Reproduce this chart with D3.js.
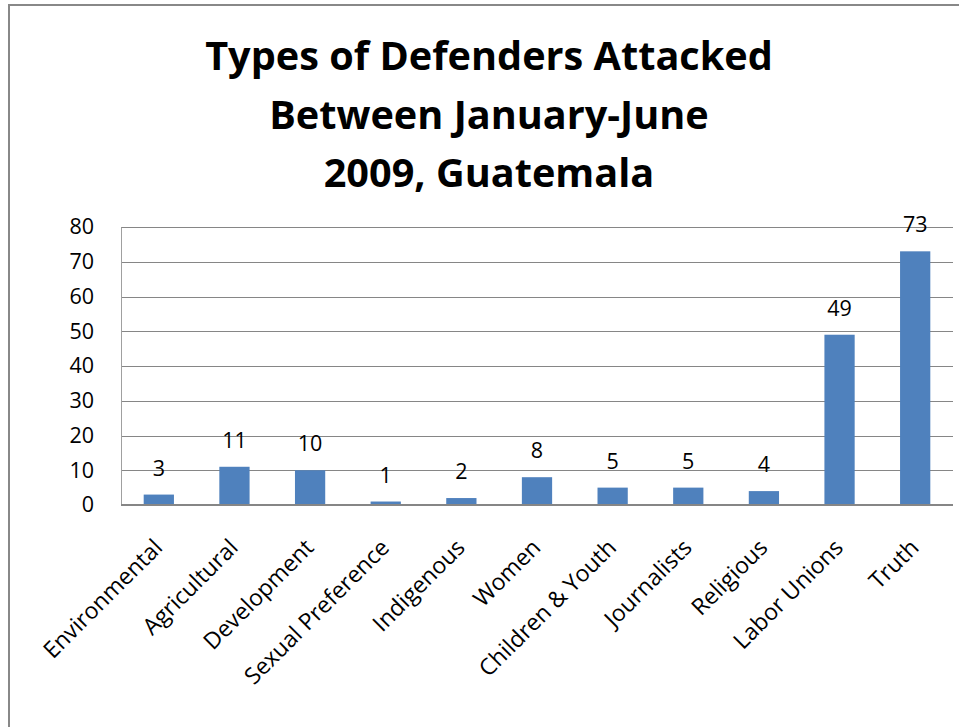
<!DOCTYPE html>
<html>
<head>
<meta charset="utf-8">
<script src="https://cdn.jsdelivr.net/npm/d3@7"></script>
<style>
  html, body { margin: 0; padding: 0; background: #fff; }
  svg { display: block; }
</style>
</head>
<body>
<svg id="chart" width="959" height="727"></svg>
<script>
// Attacks on human-rights defenders, by type of defender
const categories = ["Environmental", "Agricultural", "Development", "Sexual Preference", "Indigenous",
  "Women", "Children & Youth", "Journalists", "Religious", "Labor Unions", "Truth"];
const values = [3, 11, 10, 1, 2, 8, 5, 5, 4, 49, 73];
const yTicks = [0, 10, 20, 30, 40, 50, 60, 70, 80];
const titleLines = ["Types of Defenders Attacked", "Between January-June", "2009, Guatemala"];

const svg = d3.select("#chart");
const font = "'Open Sans', 'Liberation Sans', sans-serif";
const gridColor = "#868686";
const barColor = "#4F81BD";

// chart frame (runs past the right and bottom edges)
svg.append("rect")
  .attr("x", 9).attr("y", 5)
  .attr("width", 1000).attr("height", 800)
  .attr("fill", "#fff")
  .attr("stroke", "#888").attr("stroke-width", 2);

const plot = { left: 121, right: 953, top: 227, bottom: 505 };

const x = d3.scaleBand()
  .domain(categories)
  .range([plot.left, plot.right])
  .paddingInner(0.6)
  .paddingOuter(0.3);

const y = d3.scaleLinear()
  .domain([0, 80])
  .range([plot.bottom, plot.top]);

// title, three centred lines
const title = svg.append("g")
  .attr("font-family", font)
  .attr("font-weight", "bold")
  .attr("fill", "#000")
  .attr("text-anchor", "middle");
const titleSize = 40;
const titleBaselines = [70, 128.5, 187];
titleLines.forEach((line, i) => {
  title.append("text")
    .attr("x", 489)
    .attr("y", titleBaselines[i])
    .attr("font-size", titleSize)
    .text(line);
});
// fit the longest line to its width
const t0 = title.select("text").node();
const w0 = t0.getComputedTextLength();
const fitted = titleSize * 568 / w0;
title.selectAll("text").attr("font-size", Math.min(fitted, 46));

// horizontal gridlines
svg.append("g")
  .selectAll("line")
  .data(yTicks.filter(d => d > 0))
  .join("line")
  .attr("x1", plot.left).attr("x2", plot.right)
  .attr("y1", d => Math.round(y(d)) + 0.5)
  .attr("y2", d => Math.round(y(d)) + 0.5)
  .attr("stroke", gridColor)
  .attr("stroke-width", 1);

// y axis
const yAxis = svg.append("g")
  .attr("transform", `translate(${plot.left},0)`)
  .call(d3.axisLeft(y).tickValues(yTicks).tickSize(0).tickPadding(27));
yAxis.select(".domain").attr("stroke", "#a0a0a0").attr("stroke-width", 1);
yAxis.selectAll("text")
  .attr("font-family", font)
  .attr("font-size", 21.5)
  .attr("fill", "#000");

// bars
svg.append("g")
  .selectAll("rect")
  .data(categories.map((c, i) => ({ c, v: values[i] })))
  .join("rect")
  .attr("x", d => x(d.c))
  .attr("y", d => y(d.v))
  .attr("width", x.bandwidth())
  .attr("height", d => y(0) - y(d.v))
  .attr("fill", barColor);

// value labels
svg.append("g")
  .attr("font-family", font)
  .attr("font-size", 21.5)
  .attr("text-anchor", "middle")
  .selectAll("text")
  .data(categories.map((c, i) => ({ c, v: values[i] })))
  .join("text")
  .attr("x", d => x(d.c) + x.bandwidth() / 2)
  .attr("y", d => y(d.v) - 19)
  .text(d => d.v);

// x axis baseline
svg.append("line")
  .attr("x1", plot.left).attr("x2", plot.right)
  .attr("y1", y(0)).attr("y2", y(0))
  .attr("stroke", gridColor)
  .attr("stroke-width", 2);

// rotated category labels
svg.append("g")
  .attr("font-family", font)
  .attr("font-size", 23)
  .attr("text-anchor", "end")
  .selectAll("text")
  .data(categories)
  .join("text")
  .attr("transform", d => `translate(${x(d) + x.bandwidth() / 2 + 5},549) rotate(-45)`)
  .text(d => d);
</script>
</body>
</html>
